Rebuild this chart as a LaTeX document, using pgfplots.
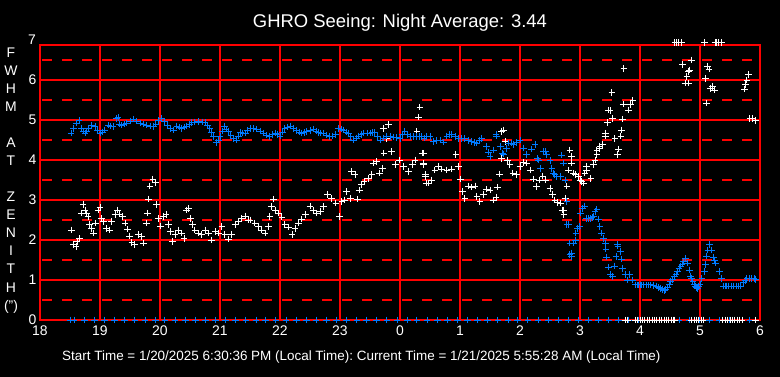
\documentclass[border=0pt]{standalone}
\usepackage{pgfplots}
\pgfplotsset{compat=1.18}
\usepackage{fontspec}
\setmainfont{Liberation Sans}
\definecolor{seeblue}{RGB}{0,122,255}
\begin{document}
\begin{tikzpicture}
\path[use as bounding box] (-40bp,-57bp) rectangle (740bp,320bp);
\fill[black] (-40bp,-57bp) rectangle (740bp,320bp);
\begin{axis}[
  at={(0,0)}, anchor=south west,
  width=720bp, height=275bp, scale only axis,
  xmin=18, xmax=30, ymin=0, ymax=6.875,
  axis line style={red, line width=1.2bp},
  xtick={18,...,30},
  xticklabels={18,19,20,21,22,23,0,1,2,3,4,5,6},
  ytick={0,...,6},
  extra y ticks={0.5,1.5,2.5,3.5,4.5,5.5,6.5},
  extra y tick labels={},
  extra y tick style={grid=major, major grid style={red, line width=1.2bp, dash pattern=on 10bp off 10bp, dash phase=-2bp}},
  grid=major,
  major grid style={red, line width=1.2bp},
  major tick length=0pt,
  /pgf/number format/assume math mode=true,
  tick label style={white, font=\fontsize{14}{14}\selectfont},
  xticklabel style={yshift=-2bp},
  clip=false,
]
% white series
\addplot[only marks, mark=+, mark size=3.3bp, white, line width=0.9bp] coordinates {
(18.53,2.25)(18.56,1.88)(18.6,1.83)(18.62,1.96)(18.66,2.04)(18.69,2.67)(18.72,2.88)(18.75,2.75)(18.78,2.67)(18.8,2.58)
(18.83,2.38)(18.86,2.29)(18.89,2.17)(18.93,2.42)(18.97,2.75)(19.0,2.82)(19.03,2.54)(19.06,2.46)(19.11,2.29)(19.16,2.25)
(19.19,2.46)(19.25,2.63)(19.29,2.75)(19.33,2.65)(19.38,2.58)(19.42,2.42)(19.46,2.27)(19.49,2.1)(19.53,1.93)(19.57,1.88)
(19.64,2.13)(19.69,2.08)(19.72,1.92)(19.77,2.42)(19.79,2.67)(19.81,3.02)(19.83,3.35)(19.88,3.52)(19.92,3.43)(19.94,2.88)
(19.97,2.54)(20.01,2.35)(20.06,2.58)(20.1,2.63)(20.14,2.38)(20.17,2.21)(20.21,1.96)(20.25,2.13)(20.31,2.25)(20.36,2.17)
(20.4,2.04)(20.44,2.75)(20.47,2.79)(20.51,2.54)(20.54,2.38)(20.58,2.25)(20.64,2.17)(20.69,2.13)(20.75,2.25)(20.81,2.17)
(20.86,2.0)(20.92,2.21)(20.97,2.17)(21.03,2.33)(21.08,2.13)(21.14,2.02)(21.19,2.13)(21.25,2.38)(21.31,2.46)(21.36,2.54)
(21.42,2.6)(21.47,2.5)(21.5,2.5)(21.58,2.42)(21.64,2.33)(21.69,2.25)(21.75,2.17)(21.81,2.33)(21.83,2.58)(21.86,2.83)
(21.89,3.02)(21.92,2.75)(21.97,2.67)(22.03,2.57)(22.08,2.38)(22.14,2.32)(22.2,2.13)(22.25,2.29)(22.31,2.42)(22.36,2.52)
(22.42,2.63)(22.5,2.85)(22.56,2.75)(22.61,2.67)(22.67,2.71)(22.72,2.83)(22.79,3.13)(22.86,3.04)(22.93,2.92)(22.99,2.58)
(23.03,2.96)(23.08,3.0)(23.11,3.21)(23.17,3.04)(23.19,3.71)(23.25,3.63)(23.29,3.02)(23.32,3.25)(23.36,3.38)(23.4,3.46)
(23.47,3.54)(23.53,3.63)(23.56,3.92)(23.61,3.96)(23.66,3.67)(23.71,3.79)(23.73,4.17)(23.78,4.54)(23.81,4.88)(23.72,4.79)
(23.86,4.21)(23.92,3.88)(23.99,4.0)(24.06,3.83)(24.14,3.71)(24.21,3.88)(24.25,4.0)(24.28,4.71)(24.31,5.07)(24.33,5.32)
(24.37,4.17)(24.39,3.88)(24.42,3.63)(24.44,3.42)(24.39,4.17)(24.39,3.92)(24.42,3.58)(24.47,3.42)(24.53,3.5)(24.58,3.75)
(24.64,3.83)(24.69,3.77)(24.78,3.75)(24.86,3.77)(24.93,4.13)(24.97,3.83)(25.01,3.52)(25.04,3.21)(25.08,3.04)(25.14,3.35)
(25.19,3.32)(25.25,3.35)(25.28,3.08)(25.33,2.96)(25.39,3.13)(25.44,3.27)(25.5,3.25)(25.56,3.0)(25.6,3.07)(25.62,3.32)
(25.66,3.65)(25.69,4.04)(25.69,4.71)(25.72,4.75)(25.75,4.46)(25.79,3.98)(25.83,3.88)(25.88,3.67)(25.94,3.63)(26.0,3.83)
(26.06,3.93)(26.11,3.92)(26.17,3.75)(26.22,3.52)(26.27,3.33)(26.32,3.5)(26.38,3.6)(26.43,3.5)(26.5,3.29)(26.54,3.13)
(26.58,3.0)(26.62,2.93)(26.67,2.92)(26.71,2.75)(26.73,2.63)(26.76,3.04)(26.78,3.35)(26.83,4.25)(26.86,3.92)(26.92,3.63)
(26.72,2.75)(26.75,3.04)(26.81,3.75)(26.86,4.08)(26.89,3.67)(26.97,3.58)(27.0,3.5)(27.03,3.46)(27.06,3.42)(27.08,3.67)
(27.11,3.75)(27.11,3.83)(27.18,3.54)(27.22,3.88)(27.25,4.0)(27.28,4.13)(27.28,4.25)(27.33,4.29)(27.33,4.35)(27.38,4.38)
(27.42,4.6)(27.42,4.67)(27.46,4.93)(27.47,5.25)(27.5,5.23)(27.54,5.04)(27.58,4.54)(27.62,4.13)(27.64,4.27)(27.68,4.6)
(27.69,4.75)(27.71,5.02)(27.53,5.68)(27.73,6.29)(27.72,5.4)(27.81,5.25)(27.84,5.38)(27.88,5.48)
(28.58,6.93)(28.61,6.93)(28.64,6.93)(28.69,6.93)(28.71,6.38)(28.75,5.92)(28.78,6.08)(28.81,6.21)(28.82,6.25)(28.81,5.92)
(28.86,6.5)(29.07,6.93)(29.09,6.04)(29.11,5.42)(29.12,6.33)(29.15,6.27)(29.17,5.79)(29.21,5.83)(29.24,5.75)
(29.25,6.93)(29.28,6.93)(29.31,6.93)(29.36,6.93)(29.74,5.77)(29.76,5.88)(29.78,6.0)(29.81,6.13)(29.83,5.04)(29.88,5.04)(29.92,4.98)
};
% blue series
\addplot[only marks, mark=+, mark size=3.3bp, seeblue, line width=0.9bp] coordinates {
(18.52,4.67)(18.56,4.79)(18.61,4.92)(18.65,4.98)(18.69,4.79)(18.72,4.72)(18.75,4.67)(18.78,4.72)(18.81,4.79)(18.86,4.87)
(18.92,4.83)(18.96,4.75)(19.0,4.67)(19.04,4.7)(19.08,4.75)(19.14,4.87)(19.18,4.85)(19.22,4.83)(19.28,5.04)(19.3,5.06)(19.33,4.9)
(19.36,4.87)(19.4,4.9)(19.44,4.92)(19.5,4.97)(19.56,5.02)(19.61,4.97)(19.67,4.92)(19.72,4.9)(19.78,4.87)(19.84,4.85)(19.89,4.83)
(19.93,4.9)(19.97,4.98)(20.03,5.04)(20.08,4.96)(20.12,4.87)(20.17,4.79)(20.22,4.75)(20.28,4.85)(20.32,4.82)(20.36,4.79)
(20.4,4.82)(20.44,4.85)(20.49,4.89)(20.53,4.93)(20.58,4.95)(20.64,4.96)(20.7,4.95)(20.75,4.93)(20.79,4.87)(20.83,4.79)
(20.86,4.68)(20.89,4.58)(20.94,4.43)(20.97,4.5)(21.0,4.58)(21.04,4.72)(21.07,4.83)(21.1,4.77)(21.14,4.71)(21.18,4.62)
(21.22,4.54)(21.28,4.5)(21.31,4.6)(21.34,4.68)(21.38,4.67)(21.42,4.67)(21.46,4.73)(21.5,4.79)(21.56,4.78)(21.61,4.77)
(21.67,4.72)(21.72,4.67)(21.78,4.62)(21.83,4.58)(21.88,4.63)(21.92,4.67)(21.96,4.63)(22.0,4.6)(22.04,4.7)(22.08,4.79)
(22.12,4.82)(22.17,4.85)(22.22,4.79)(22.28,4.73)(22.32,4.7)(22.36,4.67)(22.4,4.69)(22.44,4.71)(22.5,4.74)(22.56,4.77)
(22.6,4.72)(22.64,4.68)(22.68,4.67)(22.72,4.67)(22.78,4.62)(22.83,4.58)(22.88,4.6)(22.92,4.63)(22.97,4.79)(23.02,4.77)
(23.06,4.75)(23.1,4.7)(23.14,4.67)(23.18,4.58)(23.22,4.5)(23.27,4.55)(23.31,4.6)(23.35,4.64)(23.39,4.67)(23.45,4.67)
(23.5,4.67)(23.54,4.68)(23.58,4.68)(23.62,4.58)(23.67,4.5)(23.72,4.55)(23.78,4.6)(23.84,4.58)(23.89,4.57)(23.94,4.56)
(24.0,4.54)(24.04,4.63)(24.08,4.71)(24.12,4.64)(24.17,4.58)(24.22,4.58)(24.28,4.58)(24.32,4.58)(24.36,4.58)(24.4,4.55)
(24.44,4.58)(24.5,4.58)(24.56,4.46)(24.6,4.48)(24.67,4.5)(24.72,4.45)(24.78,4.6)(24.82,4.63)(24.86,4.63)(24.92,4.58)
(24.97,4.54)(25.02,4.53)(25.08,4.54)(25.14,4.48)(25.19,4.46)(25.24,4.44)(25.28,4.42)(25.32,4.48)(25.36,4.54)(25.44,4.33)
(25.47,4.2)(25.5,4.08)(25.56,4.25)(25.6,4.63)(25.61,4.6)(25.67,4.33)(25.71,4.17)(25.72,4.15)(25.77,4.29)(25.81,4.42)
(25.86,4.42)(25.89,4.38)(25.94,4.43)(26.0,4.5)(26.06,4.3)(26.11,4.13)(26.19,4.27)(26.25,4.38)(26.29,4.04)(26.31,4.0)
(26.34,3.79)(26.39,4.21)(26.42,4.21)(26.44,4.13)(26.5,3.98)(26.53,3.79)(26.56,3.67)(26.58,3.63)(26.61,3.58)(26.67,3.58)
(26.69,4.12)(26.72,3.92)(26.75,3.5)(26.78,2.96)(26.78,2.38)(26.81,2.38)(26.83,1.92)(26.83,1.63)(26.86,1.58)(26.86,1.67)
(26.89,1.92)(26.92,2.0)(26.93,2.17)(26.96,2.29)(26.99,2.33)(27.01,2.67)(27.04,2.79)(27.07,2.85)(27.11,2.54)(27.14,2.54)
(27.17,2.54)(27.2,2.56)(27.22,2.58)(27.25,2.71)(27.28,2.77)(27.31,2.52)(27.33,2.33)(27.36,2.17)(27.39,2.04)(27.42,1.92)
(27.43,1.77)(27.44,1.57)(27.47,1.32)(27.51,1.13)(27.54,1.08)(27.57,1.35)(27.6,1.58)(27.62,1.88)(27.63,1.85)(27.67,1.71)
(27.69,1.52)(27.71,1.29)(27.75,1.13)(27.79,1.0)(27.83,1.13)(27.88,1.0)(27.92,0.88)(27.95,0.88)(27.97,0.88)(28.0,0.88)
(28.03,0.88)(28.06,0.88)(28.1,0.88)(28.14,0.88)(28.17,0.88)(28.22,0.86)(28.28,0.85)(28.31,0.82)(28.34,0.79)(28.37,0.76)
(28.4,0.73)(28.43,0.77)(28.46,0.82)(28.49,0.89)(28.51,0.96)(28.54,1.02)(28.57,1.08)(28.6,1.15)(28.62,1.21)(28.65,1.28)
(28.68,1.35)(28.7,1.4)(28.72,1.46)(28.76,1.53)(28.79,1.42)(28.82,1.25)(28.84,1.1)(28.86,1.03)(28.88,0.96)(28.9,0.9)
(28.92,0.85)(28.94,0.82)(28.96,0.79)(28.98,0.84)(29.0,0.9)(29.03,1.04)(29.07,1.21)(29.09,1.38)(29.11,1.6)(29.13,1.75)
(29.16,1.88)(29.19,1.75)(29.22,1.57)(29.24,1.5)(29.26,1.42)(29.32,1.21)(29.36,1.04)(29.39,0.85)(29.42,0.85)(29.44,0.85)
(29.48,0.85)(29.52,0.85)(29.56,0.85)(29.6,0.85)(29.64,0.85)(29.67,0.85)(29.72,0.93)(29.75,0.99)(29.78,1.04)(29.82,1.04)
(29.86,1.04)(29.9,1.03)(29.93,1.02)
};
% blue zero markers
\addplot[only marks, mark=+, mark size=3.3bp, seeblue, line width=0.9bp] coordinates {
(18.5,0)(18.57,0)(18.74,0)(18.91,0)(19.08,0)(19.24,0)(19.41,0)(19.58,0)(19.75,0)(19.92,0)(20.08,0)(20.25,0)(20.42,0)
(20.59,0)(20.76,0)(20.92,0)(21.09,0)(21.26,0)(21.43,0)(21.60,0)(21.76,0)(21.93,0)(22.10,0)(22.27,0)(22.44,0)(22.60,0)
(22.77,0)(22.94,0)(23.11,0)(23.28,0)(23.44,0)(23.61,0)(23.78,0)(23.95,0)(24.12,0)(24.28,0)(24.45,0)(24.62,0)(24.79,0)
(24.96,0)(25.12,0)(25.29,0)(25.46,0)(25.63,0)(25.80,0)(25.96,0)(26.13,0)(26.30,0)(26.47,0)(26.64,0)(26.80,0)(26.97,0)
(27.14,0)(27.31,0)(27.48,0)(27.64,0)(27.81,0)(27.98,0)(28.15,0)(28.32,0)(28.48,0)(28.65,0)(28.82,0)(28.99,0)(29.16,0)
(29.32,0)(29.49,0)(29.66,0)(29.83,0)
};
% white zero markers
\addplot[only marks, mark=+, mark size=3.3bp, white, line width=0.9bp] coordinates {
(27.75,0)(27.79,0)(27.92,0)(27.96,0)(28.0,0)(28.04,0)(28.08,0)(28.12,0)(28.16,0)(28.2,0)(28.24,0)(28.28,0)(28.32,0)
(28.36,0)(28.4,0)(28.44,0)(28.48,0)(28.52,0)(28.56,0)(28.58,0)(28.86,0)(28.9,0)(28.94,0)(28.98,0)(29.02,0)(29.05,0)
(29.38,0)(29.42,0)(29.46,0)(29.5,0)(29.54,0)(29.58,0)(29.62,0)(29.66,0)(29.7,0)(29.92,0)
};
\end{axis}
\begin{scope}[every node/.style={white, inner sep=0pt}]
\node[anchor=base, font=\fontsize{14}{14}\selectfont] at (-8bp,275bp) {7};
\node[anchor=base, font=\fontsize{18.5}{18.5}\selectfont] at (360bp,292bp) {GHRO Seeing: Night Average: 3.44};
\node[anchor=base west, font=\fontsize{13.5}{13.5}\selectfont] at (22bp,-40bp) {Start Time =\ 1/20/2025 6:30:36 PM (Local Time):\ Current Time = 1/21/2025 5:55:28\ AM (Local Time)};
\node[anchor=base, font=\fontsize{14}{14}\selectfont] at (-29bp,262bp) {F};
\node[anchor=base, font=\fontsize{14}{14}\selectfont] at (-29bp,244bp) {W};
\node[anchor=base, font=\fontsize{14}{14}\selectfont] at (-29bp,226bp) {H};
\node[anchor=base, font=\fontsize{14}{14}\selectfont] at (-29bp,208bp) {M};
\node[anchor=base, font=\fontsize{14}{14}\selectfont] at (-29bp,172bp) {A};
\node[anchor=base, font=\fontsize{14}{14}\selectfont] at (-29bp,154bp) {T};
\node[anchor=base, font=\fontsize{14}{14}\selectfont] at (-29bp,118bp) {Z};
\node[anchor=base, font=\fontsize{14}{14}\selectfont] at (-29bp,100bp) {E};
\node[anchor=base, font=\fontsize{14}{14}\selectfont] at (-29bp,82bp) {N};
\node[anchor=base, font=\fontsize{14}{14}\selectfont] at (-29bp,64bp) {I};
\node[anchor=base, font=\fontsize{14}{14}\selectfont] at (-29bp,46bp) {T};
\node[anchor=base, font=\fontsize{14}{14}\selectfont] at (-29bp,28bp) {H};
\node[anchor=base, font=\fontsize{14}{14}\selectfont] at (-29bp,10bp) {(")};
\end{scope}
\end{tikzpicture}
\end{document}
